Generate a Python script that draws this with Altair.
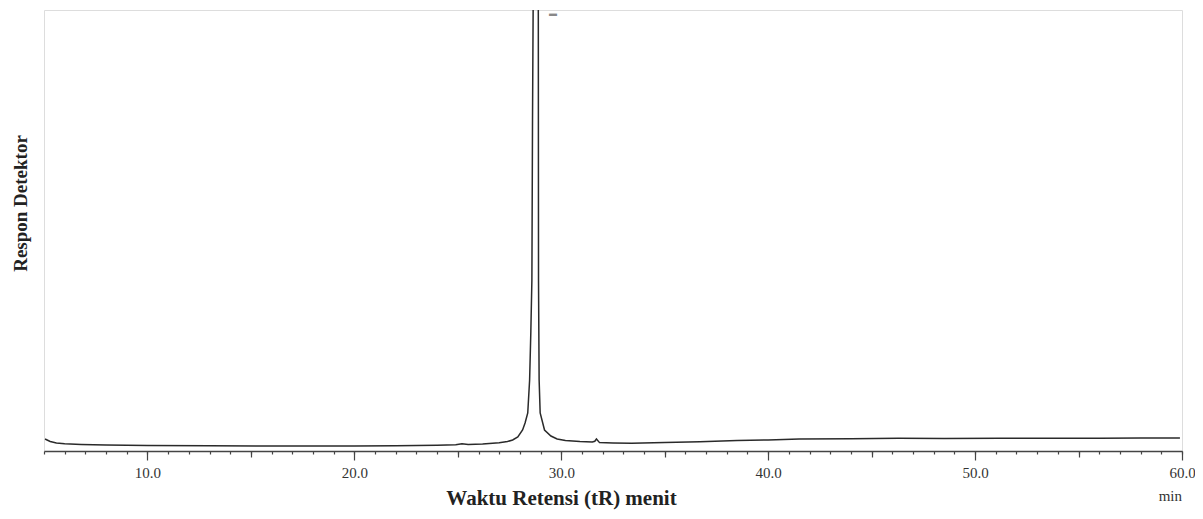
import altair as alt
import pandas as pd

# Retention time (min) and detector response (arbitrary units, 0-100 = plot frame)
time_min = [5.05, 5.3, 5.6, 6.0, 6.8, 8.0, 10.0, 13.0, 16.0, 20.0, 22.0, 24.0, 24.9,
            25.2, 25.5, 26.2, 27.0, 27.4, 27.65, 27.9, 28.13, 28.25, 28.38, 28.47,
            28.53, 28.58, 28.61, 28.64, 28.76, 28.89, 28.90, 28.93, 28.98, 29.19,
            29.5, 29.8, 30.2, 30.9, 31.5, 31.62, 31.7, 31.85, 32.5, 33.4, 35.0,
            36.7, 38.5, 40.0, 41.5, 44.0, 46.3, 48.5, 51.2, 53.5, 56.0, 58.0, 59.9]
response = [2.72, 2.15, 1.81, 1.66, 1.50, 1.36, 1.25, 1.18, 1.13, 1.13, 1.20, 1.32, 1.41,
            1.63, 1.45, 1.59, 1.88, 2.15, 2.49, 3.17, 4.76, 6.35, 8.62, 16.1,
            27.2, 38.8, 75.0, 100.0, 295.0, 100.0, 38.8, 16.1, 8.62, 4.76,
            3.40, 2.72, 2.38, 2.15, 2.04, 2.20, 2.72, 1.90, 1.81, 1.75, 1.95,
            2.10, 2.36, 2.50, 2.70, 2.80, 2.88, 2.86, 2.88, 2.90, 2.90, 2.92, 2.92]

minor_ticks = list(range(5, 61))
mid_ticks = [15, 25, 35, 45, 55]
major_ticks = [10, 20, 30, 40, 50, 60]

mark_x = [29.6]
mark_y = [99.2]
mark_txt = ["▬"]

unit_x = [60.0]
unit_txt = ["min"]

df = pd.DataFrame({"t": time_min, "r": response, "i": list(range(len(time_min)))})
df_mark = pd.DataFrame({"t": mark_x, "r": mark_y, "s": mark_txt})
df_unit = pd.DataFrame({"t": unit_x, "s": unit_txt})

SERIF = "Liberation Serif"

xscale = alt.Scale(domain=[5, 60], nice=False, zero=False)
yscale = alt.Scale(domain=[0, 100], nice=False, zero=True)

line = alt.Chart(df).mark_line(color="#2a2a2a", strokeWidth=1.5, clip=True).encode(
    x=alt.X("t:Q", scale=xscale, title=None, axis=alt.Axis(
        orient="bottom", values=minor_ticks, labels=False, grid=False,
        tickSize=3, tickColor="#444", tickWidth=1.2,
        domainColor="#444", domainWidth=1.5)),
    y=alt.Y("r:Q", scale=yscale, axis=alt.Axis(
        labels=False, ticks=False, domain=False, grid=False,
        title="Respon Detektor", titleFont=SERIF, titleFontSize=19,
        titleFontWeight="bold", titleColor="#222", titleX=-24, titleY=193,
        titleAlign="center", titleBaseline="middle")),
    order=alt.Order("i:Q"),
)

marker = alt.Chart(df_mark).mark_text(color="#888", fontSize=8).encode(
    x=alt.X("t:Q", scale=xscale, title=None, axis=alt.Axis(
        orient="bottom", values=mid_ticks, labels=False, grid=False, domain=False,
        tickSize=6, tickColor="#444", tickWidth=1.2)),
    y=alt.Y("r:Q", scale=yscale, axis=None),
    text="s:N",
)

unit = alt.Chart(df_unit).mark_text(font=SERIF, fontSize=15, color="#333",
                                    align="right", baseline="middle").encode(
    x=alt.X("t:Q", scale=xscale, axis=alt.Axis(
        orient="bottom", values=major_ticks, format=".1f", grid=False, domain=False,
        tickSize=9, tickColor="#444", tickWidth=1.2,
        labelOverlap=False, labelFlush=False,
        labelFont=SERIF, labelFontSize=15, labelColor="#333", labelPadding=5,
        title="Waktu Retensi (tR) menit", titleFont=SERIF, titleFontSize=21,
        titleFontWeight="bold", titleColor="#222", titleX=517, titleY=47,
        titleAlign="center", titleBaseline="middle")),
    y=alt.value(486),
    text="s:N",
)

chart = alt.layer(line, marker, unit).resolve_axis(
    x="independent", y="independent"
).properties(
    width=1138, height=441,
    padding={"left": 36, "top": 2, "right": 13, "bottom": 60},
    autosize=alt.AutoSizeParams(type="none"),
).configure_view(stroke="#666", strokeWidth=1.5).configure(background="white")

chart.save("out.html", embed_options={"renderer": "svg", "actions": False})
